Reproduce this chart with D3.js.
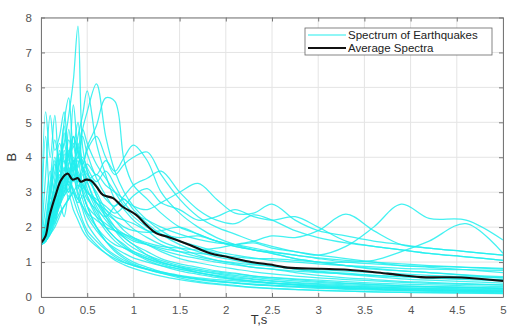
<!DOCTYPE html>
<html>
<head>
<meta charset="utf-8">
<script src="https://cdn.jsdelivr.net/npm/d3@7"></script>
<style>
  body { margin: 0; background: #fff; }
  svg { display: block; font-family: "Liberation Sans", Arial, sans-serif; }
</style>
</head>
<body>
<svg id="chart" width="508" height="327"></svg>
<script>
// periods (s) shared by every earthquake spectrum
const periods = [0, 0.05, 0.1, 0.15, 0.2, 0.25, 0.3, 0.35, 0.4, 0.45, 0.5, 0.6, 0.7, 0.8, 0.9, 1.0,
  1.15, 1.3, 1.5, 1.7, 1.9, 2.1, 2.3, 2.5, 2.75, 3.0, 3.3, 3.6, 3.9, 4.2, 4.6, 5.0];

// spectra of the individual records
const spectra = [
  [1.5, 1.9, 2.6, 3.2, 3.9, 4.4, 5.2, 6.2, 7.75, 4.3, 3.6, 2.9, 2.4, 2.0, 1.7, 1.5, 1.2, 1.0, 0.85, 0.7, 0.6, 0.5, 0.45, 0.4, 0.35, 0.3, 0.27, 0.24, 0.22, 0.2, 0.18, 0.16],
  [1.5, 1.8, 2.4, 3.0, 3.6, 3.3, 4.2, 3.8, 4.6, 5.2, 5.9, 4.4, 3.5, 2.8, 2.5, 2.2, 1.9, 1.6, 1.4, 1.2, 1.05, 0.95, 0.85, 0.8, 0.7, 0.62, 0.55, 0.5, 0.45, 0.42, 0.38, 0.35],
  [1.5, 1.7, 2.2, 2.7, 3.3, 3.9, 3.5, 4.4, 4.0, 4.8, 5.3, 6.1, 4.6, 3.6, 3.0, 2.6, 2.2, 1.9, 1.6, 1.4, 1.25, 1.1, 1.0, 0.9, 0.8, 0.72, 0.65, 0.58, 0.52, 0.48, 0.44, 0.4],
  [1.5, 1.6, 2.0, 2.5, 2.9, 3.3, 3.7, 3.4, 4.0, 3.8, 4.3, 4.9, 5.7, 5.6, 3.9, 3.2, 2.8, 2.4, 2.0, 1.8, 1.6, 1.45, 1.35, 1.25, 1.1, 1.0, 0.9, 0.8, 0.75, 0.7, 0.63, 0.58],
  [1.5, 5.3, 4.0, 5.2, 3.6, 4.4, 3.8, 4.6, 3.5, 3.2, 2.9, 2.4, 2.0, 1.7, 1.5, 1.3, 1.1, 0.95, 0.8, 0.7, 0.6, 0.52, 0.45, 0.4, 0.35, 0.3, 0.26, 0.23, 0.2, 0.18, 0.16, 0.14],
  [1.5, 2.2, 3.3, 4.5, 3.8, 5.0, 5.7, 4.3, 5.0, 3.7, 3.3, 2.6, 2.2, 1.9, 1.7, 1.5, 1.3, 1.1, 0.95, 0.85, 0.75, 0.68, 0.6, 0.55, 0.5, 0.45, 0.4, 0.36, 0.32, 0.3, 0.27, 0.25],
  [1.5, 3.5, 5.2, 4.2, 4.6, 5.3, 4.0, 3.6, 3.9, 3.0, 2.6, 2.0, 1.6, 1.35, 1.15, 1.0, 0.85, 0.72, 0.6, 0.52, 0.45, 0.4, 0.35, 0.32, 0.28, 0.25, 0.22, 0.2, 0.18, 0.16, 0.14, 0.12],
  [1.5, 1.6, 1.9, 2.2, 2.6, 2.9, 3.1, 3.4, 3.3, 3.6, 3.8, 3.5, 3.9, 3.6, 4.0, 4.35, 3.9, 3.0, 2.4, 2.0, 1.7, 1.5, 1.35, 1.25, 1.1, 1.0, 0.9, 0.82, 0.75, 0.7, 0.62, 0.55],
  [1.5, 1.7, 2.1, 2.6, 3.0, 3.4, 3.2, 3.7, 4.0, 3.8, 4.2, 4.6, 4.0, 3.5, 3.8, 4.0, 4.15, 3.5, 2.8, 2.3, 2.0, 1.8, 1.6, 1.45, 1.3, 1.2, 1.1, 1.0, 0.9, 0.85, 0.78, 0.7],
  [1.5, 1.6, 1.8, 2.1, 2.4, 2.6, 2.8, 3.0, 3.2, 3.1, 3.3, 3.5, 3.2, 3.0, 2.8, 2.6, 2.5, 2.7, 3.0, 3.25, 2.8, 2.4, 2.4, 2.66, 2.2, 1.9, 1.75, 1.6, 1.5, 1.4, 1.3, 1.2],
  [1.5, 1.7, 2.0, 2.4, 2.8, 3.2, 3.0, 3.5, 3.3, 3.7, 3.5, 3.2, 2.8, 2.6, 2.9, 3.2, 3.4, 3.6, 3.0, 2.5, 2.2, 2.1, 2.35, 2.2, 1.9, 1.7, 1.55, 1.45, 1.35, 1.25, 1.15, 1.05],
  [1.5, 1.6, 1.8, 2.0, 2.3, 2.6, 2.8, 3.0, 2.8, 3.2, 3.0, 2.7, 2.5, 2.3, 2.2, 2.1, 1.9, 1.8, 1.7, 1.75, 1.6, 1.5, 1.55, 1.4, 1.3, 1.2, 1.45, 2.0, 2.66, 2.25, 2.2, 1.63],
  [1.5, 1.7, 2.2, 2.7, 3.1, 2.9, 3.3, 3.1, 2.8, 2.6, 2.4, 2.2, 2.0, 1.9, 1.8, 1.7, 1.55, 1.45, 1.4, 1.35, 1.4, 1.5, 1.6, 1.75, 1.7, 1.9, 2.37, 1.9, 1.5, 1.4, 1.3, 1.2],
  [1.5, 1.6, 1.9, 2.3, 2.7, 3.0, 3.3, 3.0, 2.7, 2.9, 2.6, 2.3, 2.1, 1.9, 1.75, 1.6, 1.5, 1.4, 1.3, 1.25, 1.2, 1.15, 1.1, 1.1, 1.05, 1.0, 1.0, 1.05, 1.3, 1.6, 2.1, 1.25],
  [1.5, 1.8, 2.5, 3.4, 4.1, 3.6, 4.5, 3.9, 3.4, 3.0, 2.6, 2.0, 1.6, 1.3, 1.1, 0.95, 0.8, 0.68, 0.55, 0.45, 0.38, 0.33, 0.28, 0.25, 0.22, 0.19, 0.17, 0.15, 0.13, 0.12, 0.11, 0.1],
  [1.5, 2.0, 2.9, 3.8, 3.2, 4.2, 3.6, 3.0, 2.6, 2.2, 1.9, 1.6, 1.35, 1.15, 1.0, 0.9, 0.78, 0.68, 0.58, 0.5, 0.44, 0.4, 0.36, 0.33, 0.3, 0.27, 0.24, 0.22, 0.2, 0.19, 0.17, 0.16],
  [1.5, 1.6, 2.0, 2.5, 3.0, 3.6, 4.1, 4.6, 4.2, 3.9, 3.6, 2.9, 2.3, 1.9, 1.6, 1.4, 1.2, 1.05, 0.9, 0.8, 0.72, 0.66, 0.6, 0.56, 0.52, 0.48, 0.44, 0.4, 0.37, 0.35, 0.32, 0.3],
  [1.5, 1.7, 2.3, 2.9, 3.5, 3.1, 3.8, 4.3, 3.7, 4.6, 4.1, 3.4, 2.9, 2.5, 2.2, 1.95, 1.7, 1.5, 1.3, 1.15, 1.05, 0.98, 0.92, 0.88, 0.82, 0.78, 0.74, 0.7, 0.66, 0.62, 0.58, 0.55],
  [1.5, 1.9, 2.7, 2.3, 3.0, 3.5, 3.2, 2.8, 2.4, 2.1, 1.8, 1.5, 1.25, 1.05, 0.92, 0.82, 0.7, 0.6, 0.5, 0.42, 0.36, 0.31, 0.27, 0.24, 0.21, 0.19, 0.17, 0.15, 0.14, 0.13, 0.12, 0.11],
  [1.5, 1.6, 1.8, 2.2, 2.6, 3.0, 3.4, 3.8, 4.2, 4.8, 4.4, 3.8, 3.4, 3.0, 2.6, 2.3, 2.0, 1.8, 1.6, 1.45, 1.3, 1.2, 1.12, 1.05, 1.0, 0.95, 0.9, 0.86, 0.82, 0.8, 0.78, 0.76],
  [1.5, 1.7, 2.1, 2.6, 3.1, 3.7, 3.3, 3.9, 3.4, 3.1, 2.8, 2.5, 2.3, 2.6, 2.8, 2.5, 2.1, 1.8, 1.5, 1.3, 1.15, 1.05, 0.95, 0.88, 0.8, 0.74, 0.68, 0.62, 0.58, 0.54, 0.5, 0.46],
  [1.5, 2.1, 3.0, 3.6, 4.4, 3.9, 3.5, 4.0, 3.2, 2.8, 2.4, 2.0, 1.7, 1.5, 1.4, 1.3, 1.15, 1.0, 0.85, 0.75, 0.66, 0.58, 0.52, 0.47, 0.42, 0.38, 0.35, 0.32, 0.3, 0.28, 0.26, 0.24],
  [1.5, 1.6, 1.9, 2.3, 2.7, 3.2, 3.6, 3.3, 3.8, 4.0, 3.7, 3.3, 3.6, 3.2, 2.7, 2.4, 2.2, 2.0, 1.8, 1.65, 1.55, 1.5, 1.4, 1.3, 1.2, 1.1, 1.0, 0.95, 0.9, 0.88, 0.85, 0.82],
  [1.5, 1.8, 2.4, 2.1, 2.7, 2.3, 2.9, 2.5, 2.2, 1.9, 1.7, 1.45, 1.25, 1.1, 0.98, 0.9, 0.8, 0.72, 0.62, 0.55, 0.5, 0.46, 0.42, 0.39, 0.36, 0.33, 0.3, 0.28, 0.26, 0.25, 0.23, 0.22],
  [1.5, 1.7, 2.2, 2.8, 3.3, 3.0, 3.5, 3.9, 3.6, 3.3, 3.0, 2.8, 2.6, 2.4, 2.6, 2.9, 3.1, 2.7, 2.5, 2.2, 2.3, 2.5, 2.3, 2.2, 2.3, 2.0, 1.6, 1.45, 1.35, 1.25, 1.15, 1.05],
  [1.5, 1.6, 2.0, 2.4, 2.9, 3.4, 3.0, 3.6, 4.4, 3.8, 3.3, 2.7, 2.3, 2.0, 1.8, 1.65, 1.5, 1.35, 1.2, 1.1, 1.0, 0.92, 0.85, 0.8, 0.74, 0.7, 0.66, 0.62, 0.58, 0.55, 0.52, 0.5],
  [1.5, 1.7, 2.0, 2.4, 2.8, 3.1, 3.4, 3.7, 3.5, 3.2, 3.0, 2.7, 2.4, 2.2, 2.0, 1.9, 1.85, 1.9, 2.0, 1.8, 1.6, 1.45, 1.35, 1.28, 1.2, 1.12, 1.05, 1.0, 0.95, 0.9, 0.85, 0.8],
  [1.5, 1.9, 2.6, 3.2, 3.8, 4.9, 4.0, 4.6, 4.1, 3.6, 3.1, 2.5, 2.0, 1.7, 1.45, 1.25, 1.05, 0.9, 0.75, 0.65, 0.56, 0.5, 0.45, 0.4, 0.36, 0.32, 0.29, 0.26, 0.24, 0.22, 0.2, 0.18],
  [1.5, 2.6, 3.6, 2.9, 4.2, 3.4, 4.8, 3.6, 2.9, 2.5, 2.1, 1.7, 1.4, 1.2, 1.05, 0.92, 0.8, 0.7, 0.6, 0.52, 0.46, 0.41, 0.37, 0.34, 0.31, 0.28, 0.25, 0.23, 0.21, 0.2, 0.18, 0.17],
  [1.5, 4.6, 2.8, 3.9, 3.3, 4.1, 3.4, 3.9, 3.1, 3.5, 2.9, 2.3, 1.9, 1.6, 1.4, 1.25, 1.1, 0.98, 0.86, 0.76, 0.68, 0.62, 0.56, 0.51, 0.46, 0.42, 0.38, 0.35, 0.32, 0.3, 0.28, 0.26],
  [1.5, 2.0, 3.1, 4.0, 3.4, 4.7, 3.9, 5.5, 4.2, 3.7, 3.4, 3.0, 2.5, 2.2, 1.9, 1.7, 1.5, 1.3, 1.1, 0.98, 0.88, 0.8, 0.72, 0.66, 0.6, 0.55, 0.5, 0.46, 0.42, 0.39, 0.36, 0.34],
  [1.5, 1.8, 2.3, 3.0, 2.6, 3.3, 2.8, 3.4, 3.0, 2.6, 2.3, 1.9, 1.6, 1.4, 1.25, 1.12, 1.0, 0.9, 0.8, 0.7, 0.62, 0.55, 0.5, 0.45, 0.4, 0.36, 0.32, 0.29, 0.26, 0.24, 0.22, 0.2]
];

// average spectrum as drawn (black line)
const avgPeriods = [0, 0.05, 0.09, 0.16, 0.22, 0.29, 0.34, 0.4, 0.43, 0.49, 0.54, 0.6, 0.67, 0.78, 0.88,
  1.03, 1.14, 1.25, 1.36, 1.61, 1.83, 2.01, 2.26, 2.52, 2.67, 3.03, 3.32, 3.75, 4.11, 4.55, 5.0];
const avgValues = [1.54, 1.75, 2.3, 2.93, 3.36, 3.53, 3.36, 3.4, 3.3, 3.36, 3.33, 3.16, 2.92, 2.83, 2.59,
  2.35, 2.06, 1.82, 1.73, 1.49, 1.25, 1.15, 1.01, 0.91, 0.84, 0.81, 0.78, 0.67, 0.57, 0.56, 0.46];

const xTicks = [0, 0.5, 1, 1.5, 2, 2.5, 3, 3.5, 4, 4.5, 5];
const yTicks = [0, 1, 2, 3, 4, 5, 6, 7, 8];
const legendLabels = ["Spectrum of Earthquakes", "Average Spectra"];

const margin = {top: 17.5, right: 5, bottom: 30, left: 41};
const width = 508 - margin.left - margin.right;
const height = 327 - margin.top - margin.bottom;

const svg = d3.select("#chart");
const g = svg.append("g")
  .attr("transform", `translate(${margin.left},${margin.top})`);

const x = d3.scaleLinear().domain([0, 5]).range([0, width]);
const y = d3.scaleLinear().domain([0, 8]).range([height, 0]);

// grid
g.append("g")
  .selectAll("line")
  .data(xTicks)
  .join("line")
    .attr("x1", d => x(d)).attr("x2", d => x(d))
    .attr("y1", 0).attr("y2", height)
    .attr("stroke", "#e4e4e4");
g.append("g")
  .selectAll("line")
  .data(yTicks)
  .join("line")
    .attr("y1", d => y(d)).attr("y2", d => y(d))
    .attr("x1", 0).attr("x2", width)
    .attr("stroke", "#e4e4e4");

g.append("clipPath").attr("id", "plotclip")
  .append("rect").attr("width", width).attr("height", height);

const line = d3.line()
  .x(d => x(d[0]))
  .y(d => y(d[1]))
  .curve(d3.curveCatmullRom.alpha(0.5));

const plot = g.append("g").attr("clip-path", "url(#plotclip)");

plot.selectAll("path.quake")
  .data(spectra)
  .join("path")
    .attr("class", "quake")
    .attr("d", s => line(s.map((v, i) => [periods[i], v])))
    .attr("fill", "none")
    .attr("stroke", "#22eeee")
    .attr("stroke-opacity", 0.85)
    .attr("stroke-width", 1.25);

plot.append("path")
  .attr("d", line(avgValues.map((v, i) => [avgPeriods[i], v])))
  .attr("fill", "none")
  .attr("stroke", "#111")
  .attr("stroke-width", 2.1);

// axes, ticks pointing inward on all four sides
const axisStyle = sel => {
  sel.select(".domain").attr("stroke", "#777");
  sel.selectAll(".tick line").attr("stroke", "#777");
};

g.append("g")
  .attr("transform", `translate(0,${height})`)
  .call(d3.axisBottom(x).tickValues(xTicks).tickSizeInner(-4).tickSizeOuter(0).tickPadding(9).tickFormat(d3.format("")))
  .call(axisStyle);

g.append("g")
  .call(d3.axisLeft(y).tickValues(yTicks).tickSizeInner(-4).tickSizeOuter(0).tickPadding(9))
  .call(axisStyle);

g.append("g")
  .call(d3.axisTop(x).tickValues(xTicks).tickSizeInner(-4).tickSizeOuter(0).tickFormat(""))
  .call(axisStyle);

g.append("g")
  .attr("transform", `translate(${width},0)`)
  .call(d3.axisRight(y).tickValues(yTicks).tickSizeInner(-4).tickSizeOuter(0).tickFormat(""))
  .call(axisStyle);

g.selectAll(".tick text").attr("font-size", 11.5).attr("fill", "#555");

// axis titles
svg.append("text")
  .attr("x", margin.left + x(2.36))
  .attr("y", 324)
  .attr("text-anchor", "middle")
  .attr("font-size", 13)
  .attr("fill", "#333")
  .text("T,s");

svg.append("text")
  .attr("transform", `translate(16,${margin.top + y(4)}) rotate(-90)`)
  .attr("text-anchor", "middle")
  .attr("font-size", 13)
  .attr("fill", "#333")
  .text("B");

// legend
const legend = svg.append("g").attr("transform", "translate(305,28)");
legend.append("rect")
  .attr("width", 187).attr("height", 27)
  .attr("fill", "#fff").attr("stroke", "#666").attr("stroke-width", 0.8);

const legendColors = ["#22eeee", "#111"];
const item = legend.selectAll("g.item")
  .data(legendLabels)
  .join("g")
    .attr("transform", (d, i) => `translate(0,${7 + i * 13})`);
item.append("line")
  .attr("x1", 3).attr("x2", 41)
  .attr("stroke", (d, i) => legendColors[i])
  .attr("stroke-width", (d, i) => i ? 1.8 : 1.2);
item.append("text")
  .attr("x", 43).attr("y", 4)
  .attr("font-size", 11.5)
  .attr("fill", "#222")
  .text(d => d);
</script>
</body>
</html>
